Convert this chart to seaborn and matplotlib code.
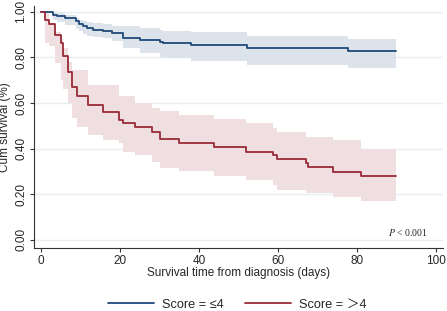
import numpy as np
import pandas as pd
import seaborn as sns
import matplotlib
matplotlib.use("Agg")
import matplotlib.pyplot as plt

# Kaplan-Meier estimates (days, survival, 95% bounds)
low_t = [0, 3.1, 4, 6.1, 8.9, 9.7, 10.7, 11.7, 13.2, 15.8, 17.9, 20.8, 25.1, 30.1, 31, 38.1, 52.1, 77.8, 90]
low_s = [1.0, 0.987, 0.98, 0.972, 0.958, 0.946, 0.936, 0.927, 0.921, 0.914, 0.906, 0.884, 0.877, 0.867,
         0.863, 0.855, 0.843, 0.83, 0.83]
low_hi = [1.0, 1.0, 0.995, 0.985, 0.975, 0.965, 0.96, 0.955, 0.95, 0.945, 0.94, 0.936, 0.93, 0.92,
          0.918, 0.911, 0.895, 0.882, 0.882]
low_lo = [1.0, 0.965, 0.955, 0.943, 0.925, 0.914, 0.905, 0.895, 0.888, 0.884, 0.87, 0.84, 0.82, 0.80,
          0.797, 0.785, 0.768, 0.753, 0.753]

high_t = [0, 1, 2, 3.5, 5, 5.6, 6.9, 7.9, 9, 12, 15.8, 19.7, 20.7, 23.8, 28, 30.1, 34.9, 43.9, 51.9,
          58.8, 59.8, 67.1, 67.6, 74, 81.1, 90]
high_s = [1.0, 0.965, 0.946, 0.90, 0.863, 0.807, 0.738, 0.67, 0.632, 0.592, 0.561, 0.526, 0.512, 0.493,
          0.475, 0.441, 0.424, 0.407, 0.387, 0.373, 0.355, 0.336, 0.32, 0.298, 0.282, 0.282]
high_hi = [1.0, 1.0, 0.95, 0.91, 0.88, 0.84, 0.78, 0.746, 0.746, 0.68, 0.68, 0.63, 0.63, 0.60, 0.58,
           0.565, 0.548, 0.53, 0.512, 0.49, 0.475, 0.453, 0.453, 0.439, 0.40, 0.40]
high_lo = [1.0, 0.865, 0.85, 0.775, 0.70, 0.66, 0.60, 0.534, 0.494, 0.46, 0.44, 0.424, 0.387, 0.373,
           0.343, 0.314, 0.30, 0.278, 0.263, 0.241, 0.219, 0.205, 0.205, 0.187, 0.172, 0.172]

labels = ["Score = ≤4", "Score = ＞4"]
line_colors = ["#1f4a78", "#9a2a38"]
band_colors = ["#dde3ea", "#efdfe1"]

x_ticks = [0, 20, 40, 60, 80, 100]
y_ticks = [0.0, 0.2, 0.4, 0.6, 0.8, 1.0]

sns.set_theme(style="white")
plt.rcParams["font.family"] = ["Liberation Sans", "Noto Sans CJK SC", "DejaVu Sans"]
plt.rcParams["mathtext.fontset"] = "stix"

df = pd.concat([
    pd.DataFrame({"t": low_t, "s": low_s, "group": labels[0]}),
    pd.DataFrame({"t": high_t, "s": high_s, "group": labels[1]}),
])

fig = plt.figure(figsize=(4.47, 3.11), dpi=100)
ax = fig.add_axes([0.076, 0.203, 0.915, 0.778])

ax.fill_between(low_t, low_lo, low_hi, step="post", color=band_colors[0], lw=0)
ax.fill_between(high_t, high_lo, high_hi, step="post", color=band_colors[1], lw=0)

sns.lineplot(data=df, x="t", y="s", hue="group", palette=line_colors, estimator=None,
             drawstyle="steps-post", linewidth=1.3, ax=ax)

ax.set_xlim(-1.8, 101.8)
ax.set_ylim(-0.035, 1.026)
ax.set_xticks(x_ticks)
ax.set_yticks(y_ticks)
ax.set_yticklabels([f"{v:.2f}" for v in y_ticks], rotation=90, va="center")
ax.tick_params(axis="both", direction="out", length=3, width=0.8, color="#333333",
               labelsize=8.5, pad=2, bottom=True, left=True)
for v in y_ticks:
    ax.axhline(v, color="#e6eef1", lw=1, zorder=0)
sns.despine(ax=ax)
for side in ["left", "bottom"]:
    ax.spines[side].set_color("#333333")
    ax.spines[side].set_linewidth(0.8)

ax.set_xlabel("Survival time from diagnosis (days)", fontsize=8.5, labelpad=0)
ax.set_ylabel("Cum survival (%)", fontsize=8.5, labelpad=3)
ax.text(98, 0.01, "$P$ < 0.001", fontsize=7, ha="right", va="bottom",
        family="Liberation Serif")

sns.move_legend(ax, "center", bbox_to_anchor=(0.497, -0.235), ncol=2, frameon=False, title=None,
                fontsize=9.2, handlelength=3.6, columnspacing=1.7, handletextpad=0.6)

fig.savefig("out.png", dpi=100)
